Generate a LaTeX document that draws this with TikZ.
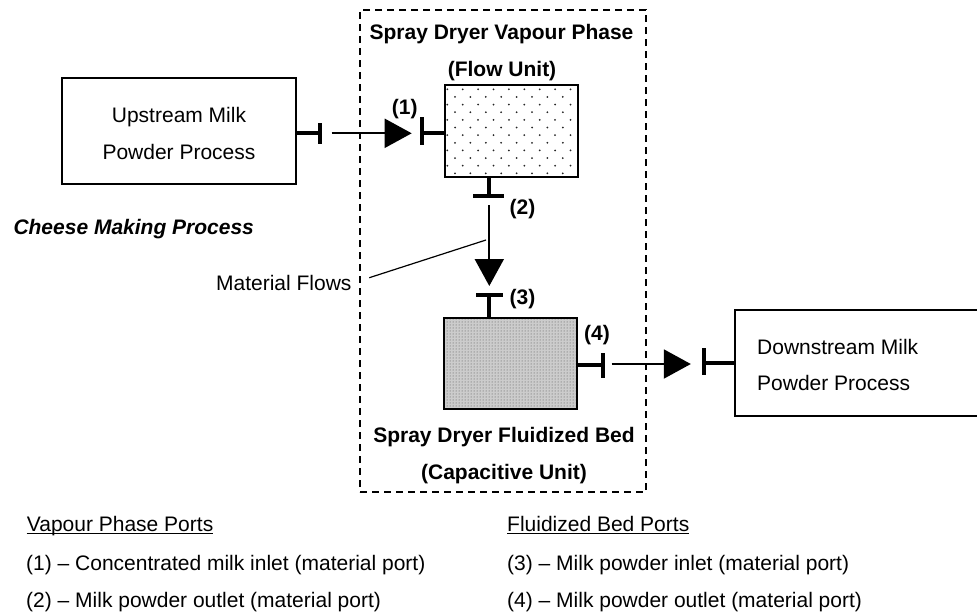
\documentclass[tikz,border=0pt]{standalone}
\usepackage{fontspec}
\setmainfont{Liberation Sans}
\usetikzlibrary{arrows.meta,patterns}

\begin{document}
\begin{tikzpicture}[x=1pt,y=-1pt,
  lbl/.style={font=\fontsize{21}{25}\selectfont, inner sep=0pt, anchor=base},
  blbl/.style={lbl, font=\fontsize{21}{25}\selectfont\bfseries},
  box/.style={draw, line width=1.7pt, inner sep=0pt},
  unitbox/.style={draw, line width=2pt, inner sep=0pt},
  stem/.style={line width=4pt},
  bar/.style={line width=4pt},
  flow/.style={line width=2pt, -{Triangle[length=27pt,width=29pt]}},
  leader/.style={line width=1.2pt},
  dryerframe/.style={draw, line width=1.5pt, dash pattern=on 7pt off 5pt, inner sep=0pt},
  uline/.style={line width=1.2pt}]

\path[use as bounding box, clip] (0,0) rectangle (977,613);

% dashed outline of the spray dryer
\node[dryerframe, minimum width=286pt, minimum height=482pt] (dryer) at (503,251) {};

% sparse dots inside the flow unit
\begin{scope}
  \clip (445,85) rectangle (578,176.7);
  \foreach \r in {0,...,11} {
    \foreach \c in {0,...,9} {
      \fill[black!85] ({447.3+15.4*\c+7.7*mod(\r,2)}, {89.3+7.64*\r}) circle (1pt);
    }
  }
\end{scope}

% process blocks
\node[box, minimum width=234pt, minimum height=106pt] (up) at (179,131) {};
\node[unitbox, minimum width=133pt, minimum height=91.7pt] (fu) at (511.5,130.85) {};
\node[unitbox, minimum width=132.7pt, minimum height=91.8pt,
      preaction={fill=black!20}, pattern=dots, pattern color=black!70] (fb) at (510.35,363.4) {};
\node[box, minimum width=260pt, minimum height=106pt, anchor=west] (down) at (734,363) {};

% block texts
\node[lbl] (upt1) at (179,122.5) {Upstream Milk};
\node[lbl] (upt2) at (179,159.5) {Powder Process};
\node[lbl, anchor=base west] (dnt1) at (757,354.5) {Downstream Milk};
\node[lbl, anchor=base west] (dnt2) at (757,390.5) {Powder Process};

\node[blbl] (vpt1) at (501.5,39.2) {Spray Dryer Vapour Phase};
\node[blbl] (vpt2) at (502,76.5) {(Flow Unit)};
\node[blbl] (fbt1) at (504,442.5) {Spray Dryer Fluidized Bed};
\node[blbl] (fbt2) at (504,479.2) {(Capacitive Unit)};

\node[blbl, font=\fontsize{21}{25}\selectfont\bfseries\itshape, anchor=base west] (cheese) at (13.3,234.2) {Cheese Making Process};

% port numbers
\node[blbl] (n1) at (404.7,114.5) {(1)};
\node[blbl] (n2) at (522.5,214.2) {(2)};
\node[blbl] (n3) at (522.5,304.5) {(3)};
\node[blbl] (n4) at (597,340.5) {(4)};

% ports
\coordinate (p0) at (320,133.3);
\coordinate (p1) at (422,133.3);
\coordinate (p2) at (489.3,196);
\coordinate (p3) at (488.5,295);
\coordinate (p4) at (603,364.5);
\coordinate (p5) at (704,362.5);

\draw[stem] (up.east |- p0) -- (p0);
\draw[bar] ([yshift=10pt]p0) -- ([yshift=-11pt]p0);

\draw[stem] (p1) -- (p1 -| fu.west);
\draw[bar] ([yshift=16pt]p1) -- ([yshift=-12pt]p1);

\draw[stem] (p2 |- fu.south) -- (p2);
\draw[bar] ([xshift=-16pt]p2) -- ([xshift=15pt]p2);

\draw[stem] (p3) -- (p3 |- fb.north);
\draw[bar] ([xshift=-12.5pt]p3) -- ([xshift=14.5pt]p3);

\draw[stem] (fb.east |- p4) -- (p4);
\draw[bar] ([yshift=11.5pt]p4) -- ([yshift=-13.5pt]p4);

\draw[stem] (p5) -- (p5 -| down.west);
\draw[bar] ([yshift=14.5pt]p5) -- ([yshift=-12.5pt]p5);

% material flows
\coordinate (a1s) at (331.7,133.3);
\coordinate (a1e) at (411.7,133.3);
\coordinate (a2s) at (489.3,205);
\coordinate (a2e) at (489.3,286);
\coordinate (a3s) at (611.7,364);
\coordinate (a3e) at (690.8,364);
\draw[flow] (a1s) -- (a1e);
\draw[flow] (a2s) -- (a2e);
\draw[flow] (a3s) -- (a3e);

% callout
\node[lbl, anchor=base east] (mf) at (351.7,290.2) {Material Flows};
\coordinate (lead0) at (369.3,277.7);
\coordinate (lead1) at (486,240);
\draw[leader] (lead0) -- (lead1);

% legend
\node[lbl, anchor=base west] (lg1) at (26.7,531) {Vapour Phase Ports};
\draw[uline] ([yshift=-2.5pt]lg1.base west) -- ([yshift=-2.5pt]lg1.base east);
\node[lbl, anchor=base west] (lg2) at (26,570.5) {(1) -- Concentrated milk inlet (material port)};
\node[lbl, anchor=base west] (lg3) at (26,607.5) {(2) -- Milk powder outlet (material port)};

\node[lbl, anchor=base west] (lg4) at (507,531) {Fluidized Bed Ports};
\draw[uline] ([yshift=-2.5pt]lg4.base west) -- ([yshift=-2.5pt]lg4.base east);
\node[lbl, anchor=base west] (lg5) at (507,570.5) {(3) -- Milk powder inlet (material port)};
\node[lbl, anchor=base west] (lg6) at (507,607.5) {(4) -- Milk powder outlet (material port)};

\end{tikzpicture}
\end{document}
